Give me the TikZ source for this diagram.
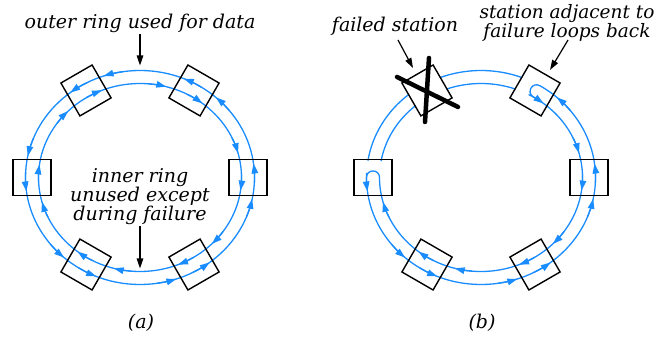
\documentclass[tikz,border=0pt]{standalone}
\usepackage{fontspec}
\setmainfont{DejaVu Serif}
\usetikzlibrary{arrows.meta,calc}
\definecolor{ringblue}{RGB}{25,140,255}
\begin{document}
\begin{tikzpicture}[x=1pt,y=1pt,
  ring/.style={draw=ringblue,line width=1.3pt},
  flow/.style={draw=ringblue,line width=1.3pt,-{Triangle[length=10pt,width=6.5pt]}},
  station/.style={draw=black,line width=1.4pt,minimum width=38pt,minimum height=36pt,inner sep=0pt},
  lbl/.style={font=\itshape\fontsize{19}{19}\selectfont,inner sep=1pt},
  pointer/.style={draw=black,line width=1.2pt,-{Triangle[length=10pt,width=6.5pt]}},
  cross/.style={draw=black,line width=4.5pt,line cap=round},
]
\useasboundingbox (0,0) rectangle (656,340);
% ring radii: outer, inner and the middle line on which the stations sit
\def\rxo{114.5}\def\ryo{107}
\def\rxi{101.5}\def\ryi{94}
\def\rxm{108}\def\rym{100.5}
% points on the three ellipses
\def\po#1{(canvas polar cs:angle={#1},x radius=\rxo,y radius=\ryo)}
\def\pin#1{(canvas polar cs:angle={#1},x radius=\rxi,y radius=\ryi)}
\def\pm#1{(canvas polar cs:angle={#1},x radius=\rxm,y radius=\rym)}
% arrowheads on the outer (counter-clockwise) and inner (clockwise) ring
\def\outarrow#1{\draw[flow] \po{#1-10} arc[start angle=#1-10,end angle=#1,x radius=\rxo,y radius=\ryo];}
\def\inarrow#1{\draw[flow] \pin{#1+10} arc[start angle=#1+10,end angle=#1,x radius=\rxi,y radius=\ryi];}
\coordinate (ringA) at (140,162.5);
\coordinate (ringB) at (481,162.5);

% ---------------- (a) normal operation ----------------
\begin{scope}[shift={(ringA)}]
  \draw[ring] (0,0) ellipse [x radius=\rxo, y radius=\ryo];
  \draw[ring] (0,0) ellipse [x radius=\rxi, y radius=\ryi];
  \foreach \c/\n in {0/a0,60/a1,120/a2,180/a3,240/a4,300/a5}
    \node[station,rotate=\c] (\n) at \pm{\c} {};
  \foreach \c in {0,60,...,300} {
    \outarrow{\c-11.5}\outarrow{\c+7.5}
    \inarrow{\c+15}\inarrow{\c-8}
  }
  \coordinate (outertip) at (0,112);
  \coordinate (innertip) at (0,-91);
\end{scope}

\node[lbl,anchor=base] (outerlbl) at (140,311) {outer ring used for data};
\draw[pointer] (outerlbl.south) -- (outertip);
\node[lbl,align=center] (innerlbl) at (140,143) {inner ring\\unused except\\during failure};
\draw[pointer] (innerlbl.south) -- (innertip);
\node[lbl] (capa) at (141,17) {(a)};

% ---------------- (b) one station failed ----------------
\begin{scope}[shift={(ringB)}]
  % loop: outer ring from the left station round to the station next to the failure, back on the inner ring
  \draw[ring] \pin{180} .. controls +(90:8.7) and +(90:8.7) .. \po{180}
    arc[start angle=180,end angle=419,x radius=\rxo,y radius=\ryo]
    .. controls +(149:8.7) and +(149:8.7) .. \pin{419}
    arc[start angle=419,end angle=180,x radius=\rxi,y radius=\ryi];
  % idle pieces on either side of the failed station
  \draw[ring] \po{69} arc[start angle=69,end angle=111,x radius=\rxo,y radius=\ryo];
  \draw[ring] \po{129} arc[start angle=129,end angle=171,x radius=\rxo,y radius=\ryo];
  \draw[ring] \pin{70} arc[start angle=70,end angle=110,x radius=\rxi,y radius=\ryi];
  \draw[ring] \pin{130} arc[start angle=130,end angle=170,x radius=\rxi,y radius=\ryi];
  \foreach \c/\n in {0/b0,60/b1,180/b3,240/b4,300/b5}
    \node[station,rotate=\c] (\n) at \pm{\c} {};
  \node[station,rotate=120] (fail) at \pm{120} {};
  \foreach \c in {240,300,360} {
    \outarrow{\c-11.5}\outarrow{\c+7.5}
    \inarrow{\c+15}\inarrow{\c-8}
  }
  \outarrow{48.5}\outarrow{187.5}
  \inarrow{52}\inarrow{195}
\end{scope}

% the failed station is crossed out
\draw[cross] ($(fail)+(-30,13.5)$) -- ($(fail)+(31,-16.5)$);
\draw[cross] ($(fail)+(2,32.5)$) -- ($(fail)+(-2,-31.5)$);

\node[lbl,anchor=base] (faillbl) at (395,308) {failed station};
\coordinate (failtip) at (413,272);
\draw[pointer] (398,300) -- (failtip);
\node[lbl,align=center,font=\itshape\fontsize{18.5}{17.5}\selectfont] (looplbl) at (567,317) {station adjacent to\\failure loops back};
\coordinate (looptip) at (550,270);
\draw[pointer] (568,300) -- (looptip);
\node[lbl] (capb) at (482,17) {(b)};
\end{tikzpicture}
\end{document}
